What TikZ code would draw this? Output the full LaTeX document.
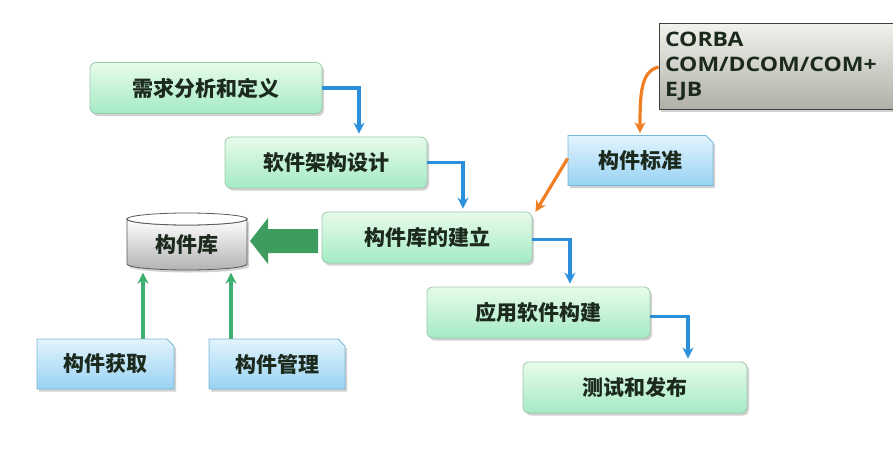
\documentclass[tikz,border=0pt]{standalone}
\usepackage{fontspec}
\setmainfont{Open Sans}
\newfontfamily\cjk{Noto Sans CJK SC}
\newfontfamily\latinbox{Open Sans}[FakeStretch=1.15]
\usetikzlibrary{shapes.misc,shadows,arrows.meta,calc}
\definecolor{textc}{HTML}{1C2A1E}
\definecolor{gtop}{HTML}{E8FBEA}
\definecolor{gbot}{HTML}{A4EBC4}
\definecolor{gborder}{HTML}{9CC8AC}
\definecolor{btop}{HTML}{E2F4FD}
\definecolor{bbot}{HTML}{98D2F3}
\definecolor{bborder}{HTML}{7AB6D6}
\definecolor{flowc}{HTML}{2A90DC}
\definecolor{orangec}{HTML}{F07E22}
\definecolor{greenc}{HTML}{3FAE72}
\definecolor{bigarrowc}{HTML}{3E9C5E}
\definecolor{greytop}{HTML}{F2F2EE}
\definecolor{greybot}{HTML}{B0B0A8}
\begin{document}
\begin{tikzpicture}[x=1pt,y=-1pt,
  txt/.style={font=\cjk\bfseries\fontsize{21}{24}\selectfont, text=textc},
  shadowed/.style={drop shadow={shadow xshift=2pt, shadow yshift=-2.5pt, opacity=0.3, fill=black!60}},
  gbox/.style={txt, draw=gborder, line width=0.8pt, rounded corners=6pt, top color=gtop, bottom color=gbot, minimum height=51pt, shadowed},
  bbox/.style={txt, chamfered rectangle, chamfered rectangle corners=north east, chamfered rectangle xsep=7pt, chamfered rectangle ysep=0pt, draw=bborder, line width=0.8pt, top color=btop, bottom color=bbot, minimum height=50pt, inner xsep=0pt, shadowed},
  flow/.style={draw=flowc, line width=3.4pt, -{Stealth[length=11pt,width=11pt]}, shorten >=3pt},
  oflow/.style={draw=orangec, line width=3.2pt, -{Stealth[length=11pt,width=11pt]}, shorten >=2pt},
  gflow/.style={draw=greenc, line width=3.4pt, -{Stealth[length=11pt,width=11pt]}, shorten >=2pt}
]
\useasboundingbox (0,0) rectangle (893,450);

% flow boxes
\node[gbox, minimum width=232pt] (b1) at (206,88) {需求分析和定义};
\node[gbox, minimum width=202pt] (b2) at (326,162.5) {软件架构设计};
\node[gbox, minimum width=210pt] (b3) at (427,237.5) {构件库的建立};
\node[gbox, minimum width=223pt] (b4) at (538.5,312.5) {应用软件构建};
\node[gbox, minimum width=224pt] (b5) at (635,387.5) {测试和发布};

% standard box and list
\node[bbox, minimum width=145pt] (std) at (640.5,160.5) {构件标准};
\node[draw=black!75, line width=0.8pt, top color=greytop, bottom color=greybot, shadowed,
      minimum width=240pt, minimum height=86pt, text width=228pt, align=left, inner xsep=4pt,
      font=\latinbox\bfseries\fontsize{20}{25}\selectfont, text=textc] (corba) at (779,66)
      {\raisebox{-3pt}{CORBA}\\\raisebox{-3pt}{COM/DCOM/COM+}\\\raisebox{-3pt}{EJB}};

% bottom boxes
\node[bbox, minimum width=137pt] (get) at (105.5,364) {构件获取};
\node[bbox, minimum width=136pt] (mgr) at (277,364) {构件管理};

% cylinder
\node[txt, minimum width=120pt, minimum height=58pt] (lib) at (187,241.5) {};
\draw[draw=black!65, line width=0.8pt, top color=white, bottom color=black!30, shadowed]
  (127,219) -- (127,264) arc[start angle=180, end angle=0, x radius=60, y radius=6] -- (247,219)
  arc[start angle=0, end angle=180, x radius=60, y radius=6] -- cycle;
\draw[draw=black!65, line width=0.8pt, fill=white]
  (187,219) ellipse[x radius=60, y radius=6];
\node[txt] at (lib.center) [yshift=-3pt] {构件库};

% big arrow from b3 to lib
\fill[bigarrowc] (250,241) -- (268,218) -- (268,229) -- (318,229) -- (318,253) -- (268,253) -- (268,264) -- cycle;

% flow connectors
\draw[flow] (b1.east) -| ([xshift=33pt]b2.north);
\draw[flow] (b2.east) -| ([xshift=36pt]b3.north);
\draw[flow] ([yshift=-2pt]b3.east) -| ([xshift=31.5pt]b4.north);
\draw[flow] ([yshift=-4pt]b4.east) -| ([xshift=53pt]b5.north);

% orange connectors
\draw[oflow] ([yshift=-1pt]corba.west) .. controls +(-18,4) and +(0,-40) .. ([xshift=-0.5pt]std.north);
\draw[oflow] ([yshift=2pt]std.west) -- ([xshift=2pt,yshift=-2pt]b3.north east);

% green connectors
\draw[gflow] ([xshift=37.5pt]get.north) -- ([xshift=37.5pt]get.north |- lib.south);
\draw[gflow] ([xshift=-46pt]mgr.north) -- ([xshift=-46pt]mgr.north |- lib.south);
\end{tikzpicture}
\end{document}
